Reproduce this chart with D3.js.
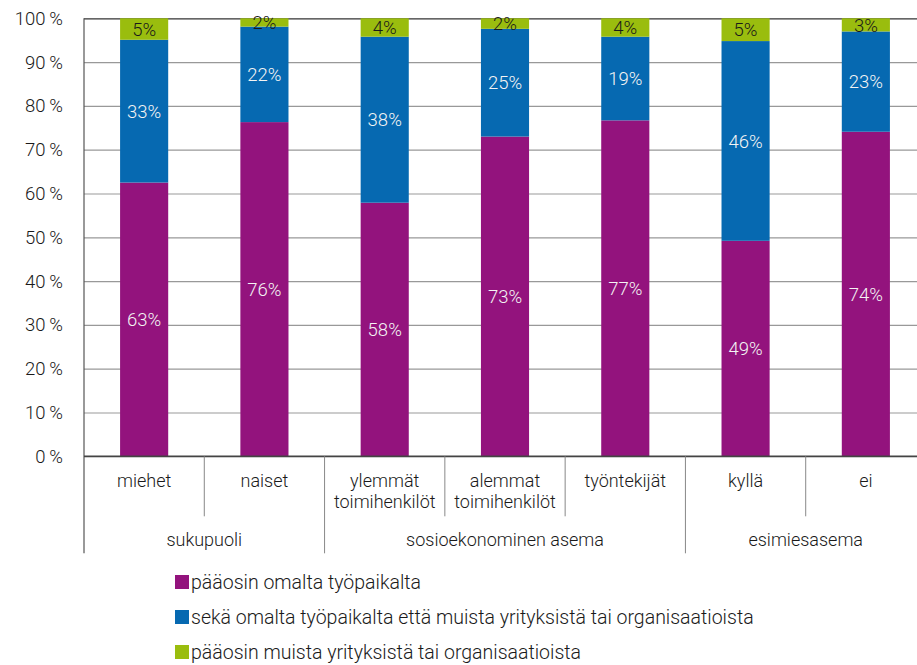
<!DOCTYPE html>
<html lang="fi">
<head>
<meta charset="UTF-8">
<title>Pinottu pylväskaavio</title>
<style>
  body { margin: 0; background: #fff; }
  svg text { font-family: Roboto, "Liberation Sans", sans-serif; font-weight: 300; fill: #1a1a1a; }
</style>
</head>
<body>
<script src="https://cdn.jsdelivr.net/npm/d3@7"></script>
<script>
// categories (label lines) and their groups
const categories = ["miehet", "naiset", "ylemmät toimihenkilöt", "alemmat toimihenkilöt", "työntekijät", "kyllä", "ei"];
const categoryLines = [["miehet"], ["naiset"], ["ylemmät", "toimihenkilöt"], ["alemmat", "toimihenkilöt"], ["työntekijät"], ["kyllä"], ["ei"]];
const groupNames = ["sukupuoli", "sosioekonominen asema", "esimiesasema"];
const groupSizes = [2, 3, 2];

// series values, %
const seriesNames = [
    "pääosin omalta työpaikalta",
    "sekä omalta työpaikalta että muista yrityksistä tai organisaatioista",
    "pääosin muista yrityksistä tai organisaatioista"
];
const omalta  = [62.5, 76.3, 57.9, 73.0, 76.7, 49.2, 74.1];
const molemmat = [32.6, 21.8, 37.9, 24.6, 19.1, 45.6, 22.9];
const muista  = [4.9, 1.9, 4.2, 2.4, 4.2, 5.2, 3.0];
const yTicks = [0, 10, 20, 30, 40, 50, 60, 70, 80, 90, 100];

const colors = ["#93137d", "#0669b1", "#9abd0e"];
const labelColors = ["#f4f4f4", "#f4f4f4", "#1a1a1a"];

const W = 917, H = 665;
const margin = {top: 18.3, left: 84},
    width = 842,
    height = 438;

const svg = d3.select("body").append("svg")
    .attr("width", W)
    .attr("height", H);
const g = svg.append("g")
    .attr("transform", "translate(" + margin.left + "," + margin.top + ")");

const x = d3.scaleBand().domain(categories).range([0, width]).padding(0);
const y = d3.scaleLinear().domain([0, 100]).range([height, 0]);
const barW = x.bandwidth() * 0.4;

// gridlines + y labels
const yAxis = g.append("g")
    .call(d3.axisLeft(y).tickValues(yTicks).tickSize(-width).tickPadding(21)
        .tickFormat(d => d + "\u2009%"));
yAxis.select(".domain").remove();
yAxis.selectAll(".tick line").attr("stroke", d => d === 100 ? "#333" : "#999").attr("stroke-width", 1.2);
yAxis.selectAll(".tick text").style("font-size", "18.5px").attr("fill", "#1a1a1a");

// stacked bars
const table = categories.map((c, i) => ({cat: c, s0: omalta[i], s1: molemmat[i], s2: muista[i]}));
const stack = d3.stack().keys(["s0", "s1", "s2"])(table);

const layers = g.selectAll(".layer")
    .data(stack)
    .enter().append("g")
    .attr("class", "layer")
    .attr("fill", (d, i) => colors[i]);

layers.selectAll("rect")
    .data(d => d)
    .enter().append("rect")
    .attr("x", d => x(d.data.cat) + (x.bandwidth() - barW) / 2)
    .attr("width", barW)
    .attr("y", d => y(d[1]))
    .attr("height", d => y(d[0]) - y(d[1]));

layers.each(function(layer, li) {
    d3.select(this).selectAll("text")
        .data(layer)
        .enter().append("text")
        .attr("x", d => x(d.data.cat) + x.bandwidth() / 2)
        .attr("y", d => y((d[0] + d[1]) / 2))
        .attr("dy", "0.36em")
        .attr("text-anchor", "middle")
        .style("font-size", "18.5px")
        .style("fill", labelColors[li])
        .text(d => Math.round(d[1] - d[0]) + "%");
});

// left axis line and baseline
g.append("line")
    .attr("x1", 0).attr("x2", 0).attr("y1", y(100)).attr("y2", height + 97)
    .attr("stroke", "#555").attr("stroke-width", 1.2);
g.append("line")
    .attr("x1", 0).attr("x2", width).attr("y1", y(0)).attr("y2", y(0))
    .attr("stroke", "#444").attr("stroke-width", 1.5);

// category separators and labels
const bottom = g.append("g").attr("transform", "translate(0," + height + ")");
let idx = 0;
const groupStarts = [];
groupSizes.forEach(n => { groupStarts.push(idx); idx += n; });

categories.forEach((c, i) => {
    if (i > 0) {
        const isGroup = groupStarts.includes(i);
        bottom.append("line")
            .attr("x1", x(c)).attr("x2", x(c))
            .attr("y1", 0).attr("y2", isGroup ? 97 : 60)
            .attr("stroke", "#888").attr("stroke-width", 1);
    }
    const t = bottom.append("text")
        .attr("text-anchor", "middle")
        .style("font-size", "18px");
    categoryLines[i].forEach((line, li) => {
        t.append("tspan")
            .attr("x", x(c) + x.bandwidth() / 2)
            .attr("y", 31 + li * 21)
            .text(line);
    });
});
bottom.append("line")
    .attr("x1", width).attr("x2", width).attr("y1", 0).attr("y2", 97)
    .attr("stroke", "#888");

groupNames.forEach((name, gi) => {
    const first = categories[groupStarts[gi]];
    const last = categories[groupStarts[gi] + groupSizes[gi] - 1];
    const cx = (x(first) + x(last) + x.bandwidth()) / 2;
    bottom.append("text")
        .attr("x", cx).attr("y", 90)
        .attr("text-anchor", "middle")
        .style("font-size", "18px")
        .text(name);
});

// legend
const legend = svg.append("g").attr("transform", "translate(175,575)");
seriesNames.forEach((name, i) => {
    const row = legend.append("g").attr("transform", "translate(0," + i * 35 + ")");
    row.append("rect").attr("width", 14).attr("height", 14).attr("fill", colors[i]);
    row.append("text").attr("x", 16).attr("y", 7).attr("dy", "0.36em")
        .style("font-size", "19.5px").text(name);
});
</script>
</body>
</html>
